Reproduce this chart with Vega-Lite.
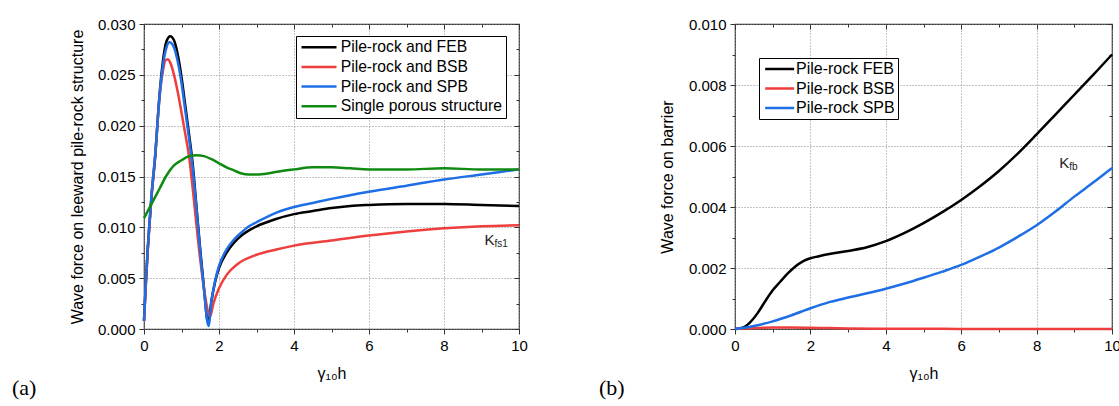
{
  "$schema": "https://vega.github.io/schema/vega-lite/v6.json",
  "autosize": {"type": "none"},
  "padding": {"left": 144, "top": 24, "right": 975, "bottom": 382},
  "background": "white",
  "datasets": {
    "a": [
      {"x": 0, "y": 0.0008, "s": "Pile-rock and FEB"},
      {"x": 0.05, "y": 0.0045, "s": "Pile-rock and FEB"},
      {"x": 0.1, "y": 0.0078, "s": "Pile-rock and FEB"},
      {"x": 0.15, "y": 0.0105, "s": "Pile-rock and FEB"},
      {"x": 0.2, "y": 0.0130, "s": "Pile-rock and FEB"},
      {"x": 0.3, "y": 0.0170, "s": "Pile-rock and FEB"},
      {"x": 0.4, "y": 0.0224, "s": "Pile-rock and FEB"},
      {"x": 0.5, "y": 0.0262, "s": "Pile-rock and FEB"},
      {"x": 0.6, "y": 0.0283, "s": "Pile-rock and FEB"},
      {"x": 0.7, "y": 0.0288, "s": "Pile-rock and FEB"},
      {"x": 0.8, "y": 0.0284, "s": "Pile-rock and FEB"},
      {"x": 0.9, "y": 0.0270, "s": "Pile-rock and FEB"},
      {"x": 1.0, "y": 0.0248, "s": "Pile-rock and FEB"},
      {"x": 1.1, "y": 0.0220, "s": "Pile-rock and FEB"},
      {"x": 1.2, "y": 0.0192, "s": "Pile-rock and FEB"},
      {"x": 1.3, "y": 0.0162, "s": "Pile-rock and FEB"},
      {"x": 1.4, "y": 0.0120, "s": "Pile-rock and FEB"},
      {"x": 1.5, "y": 0.0078, "s": "Pile-rock and FEB"},
      {"x": 1.6, "y": 0.0040, "s": "Pile-rock and FEB"},
      {"x": 1.71, "y": 0.0006, "s": "Pile-rock and FEB"},
      {"x": 1.8, "y": 0.0028, "s": "Pile-rock and FEB"},
      {"x": 1.9, "y": 0.0047, "s": "Pile-rock and FEB"},
      {"x": 2.0, "y": 0.0060, "s": "Pile-rock and FEB"},
      {"x": 2.2, "y": 0.0075, "s": "Pile-rock and FEB"},
      {"x": 2.4, "y": 0.0085, "s": "Pile-rock and FEB"},
      {"x": 2.6, "y": 0.0092, "s": "Pile-rock and FEB"},
      {"x": 2.8, "y": 0.0097, "s": "Pile-rock and FEB"},
      {"x": 3.0, "y": 0.0101, "s": "Pile-rock and FEB"},
      {"x": 3.5, "y": 0.0108, "s": "Pile-rock and FEB"},
      {"x": 4.0, "y": 0.0113, "s": "Pile-rock and FEB"},
      {"x": 4.5, "y": 0.0116, "s": "Pile-rock and FEB"},
      {"x": 5.0, "y": 0.0119, "s": "Pile-rock and FEB"},
      {"x": 5.5, "y": 0.0121, "s": "Pile-rock and FEB"},
      {"x": 6.0, "y": 0.0122, "s": "Pile-rock and FEB"},
      {"x": 7.0, "y": 0.0123, "s": "Pile-rock and FEB"},
      {"x": 8.0, "y": 0.0123, "s": "Pile-rock and FEB"},
      {"x": 9.0, "y": 0.0122, "s": "Pile-rock and FEB"},
      {"x": 10.0, "y": 0.0121, "s": "Pile-rock and FEB"},

      {"x": 0, "y": 0.0008, "s": "Pile-rock and BSB"},
      {"x": 0.05, "y": 0.0045, "s": "Pile-rock and BSB"},
      {"x": 0.1, "y": 0.0078, "s": "Pile-rock and BSB"},
      {"x": 0.15, "y": 0.0105, "s": "Pile-rock and BSB"},
      {"x": 0.2, "y": 0.0130, "s": "Pile-rock and BSB"},
      {"x": 0.3, "y": 0.0172, "s": "Pile-rock and BSB"},
      {"x": 0.4, "y": 0.0222, "s": "Pile-rock and BSB"},
      {"x": 0.5, "y": 0.0253, "s": "Pile-rock and BSB"},
      {"x": 0.6, "y": 0.0265, "s": "Pile-rock and BSB"},
      {"x": 0.65, "y": 0.0265, "s": "Pile-rock and BSB"},
      {"x": 0.7, "y": 0.0262, "s": "Pile-rock and BSB"},
      {"x": 0.8, "y": 0.0250, "s": "Pile-rock and BSB"},
      {"x": 0.9, "y": 0.0233, "s": "Pile-rock and BSB"},
      {"x": 1.0, "y": 0.0213, "s": "Pile-rock and BSB"},
      {"x": 1.1, "y": 0.0192, "s": "Pile-rock and BSB"},
      {"x": 1.2, "y": 0.0170, "s": "Pile-rock and BSB"},
      {"x": 1.3, "y": 0.0138, "s": "Pile-rock and BSB"},
      {"x": 1.4, "y": 0.0102, "s": "Pile-rock and BSB"},
      {"x": 1.5, "y": 0.0068, "s": "Pile-rock and BSB"},
      {"x": 1.6, "y": 0.0040, "s": "Pile-rock and BSB"},
      {"x": 1.7, "y": 0.0018, "s": "Pile-rock and BSB"},
      {"x": 1.76, "y": 0.0012, "s": "Pile-rock and BSB"},
      {"x": 1.85, "y": 0.0025, "s": "Pile-rock and BSB"},
      {"x": 2.0, "y": 0.0040, "s": "Pile-rock and BSB"},
      {"x": 2.2, "y": 0.0053, "s": "Pile-rock and BSB"},
      {"x": 2.5, "y": 0.0064, "s": "Pile-rock and BSB"},
      {"x": 3.0, "y": 0.0073, "s": "Pile-rock and BSB"},
      {"x": 3.5, "y": 0.0078, "s": "Pile-rock and BSB"},
      {"x": 4.0, "y": 0.0082, "s": "Pile-rock and BSB"},
      {"x": 5.0, "y": 0.0087, "s": "Pile-rock and BSB"},
      {"x": 6.0, "y": 0.0092, "s": "Pile-rock and BSB"},
      {"x": 7.0, "y": 0.0096, "s": "Pile-rock and BSB"},
      {"x": 8.0, "y": 0.0099, "s": "Pile-rock and BSB"},
      {"x": 9.0, "y": 0.0101, "s": "Pile-rock and BSB"},
      {"x": 10.0, "y": 0.0102, "s": "Pile-rock and BSB"},

      {"x": 0, "y": 0.0008, "s": "Pile-rock and SPB"},
      {"x": 0.05, "y": 0.0048, "s": "Pile-rock and SPB"},
      {"x": 0.1, "y": 0.0080, "s": "Pile-rock and SPB"},
      {"x": 0.15, "y": 0.0107, "s": "Pile-rock and SPB"},
      {"x": 0.2, "y": 0.0132, "s": "Pile-rock and SPB"},
      {"x": 0.3, "y": 0.0172, "s": "Pile-rock and SPB"},
      {"x": 0.4, "y": 0.0222, "s": "Pile-rock and SPB"},
      {"x": 0.5, "y": 0.0258, "s": "Pile-rock and SPB"},
      {"x": 0.6, "y": 0.0277, "s": "Pile-rock and SPB"},
      {"x": 0.68, "y": 0.0282, "s": "Pile-rock and SPB"},
      {"x": 0.8, "y": 0.0277, "s": "Pile-rock and SPB"},
      {"x": 0.9, "y": 0.0263, "s": "Pile-rock and SPB"},
      {"x": 1.0, "y": 0.0242, "s": "Pile-rock and SPB"},
      {"x": 1.1, "y": 0.0215, "s": "Pile-rock and SPB"},
      {"x": 1.2, "y": 0.0188, "s": "Pile-rock and SPB"},
      {"x": 1.3, "y": 0.0158, "s": "Pile-rock and SPB"},
      {"x": 1.4, "y": 0.0118, "s": "Pile-rock and SPB"},
      {"x": 1.5, "y": 0.0076, "s": "Pile-rock and SPB"},
      {"x": 1.6, "y": 0.0038, "s": "Pile-rock and SPB"},
      {"x": 1.72, "y": 0.0003, "s": "Pile-rock and SPB"},
      {"x": 1.8, "y": 0.0028, "s": "Pile-rock and SPB"},
      {"x": 1.9, "y": 0.0048, "s": "Pile-rock and SPB"},
      {"x": 2.0, "y": 0.0062, "s": "Pile-rock and SPB"},
      {"x": 2.2, "y": 0.0078, "s": "Pile-rock and SPB"},
      {"x": 2.4, "y": 0.0088, "s": "Pile-rock and SPB"},
      {"x": 2.6, "y": 0.0095, "s": "Pile-rock and SPB"},
      {"x": 2.8, "y": 0.0101, "s": "Pile-rock and SPB"},
      {"x": 3.0, "y": 0.0105, "s": "Pile-rock and SPB"},
      {"x": 3.5, "y": 0.0114, "s": "Pile-rock and SPB"},
      {"x": 4.0, "y": 0.0120, "s": "Pile-rock and SPB"},
      {"x": 4.5, "y": 0.0124, "s": "Pile-rock and SPB"},
      {"x": 5.0, "y": 0.0128, "s": "Pile-rock and SPB"},
      {"x": 6.0, "y": 0.0135, "s": "Pile-rock and SPB"},
      {"x": 7.0, "y": 0.0141, "s": "Pile-rock and SPB"},
      {"x": 8.0, "y": 0.0147, "s": "Pile-rock and SPB"},
      {"x": 9.0, "y": 0.0152, "s": "Pile-rock and SPB"},
      {"x": 10.0, "y": 0.0157, "s": "Pile-rock and SPB"},

      {"x": 0, "y": 0.0109, "s": "Single porous structure"},
      {"x": 0.2, "y": 0.0123, "s": "Single porous structure"},
      {"x": 0.4, "y": 0.0137, "s": "Single porous structure"},
      {"x": 0.6, "y": 0.0151, "s": "Single porous structure"},
      {"x": 0.8, "y": 0.0161, "s": "Single porous structure"},
      {"x": 1.0, "y": 0.0166, "s": "Single porous structure"},
      {"x": 1.2, "y": 0.0170, "s": "Single porous structure"},
      {"x": 1.4, "y": 0.0171, "s": "Single porous structure"},
      {"x": 1.6, "y": 0.0170, "s": "Single porous structure"},
      {"x": 1.8, "y": 0.0167, "s": "Single porous structure"},
      {"x": 2.0, "y": 0.0163, "s": "Single porous structure"},
      {"x": 2.2, "y": 0.0159, "s": "Single porous structure"},
      {"x": 2.4, "y": 0.0156, "s": "Single porous structure"},
      {"x": 2.6, "y": 0.0153, "s": "Single porous structure"},
      {"x": 2.8, "y": 0.0152, "s": "Single porous structure"},
      {"x": 3.0, "y": 0.0152, "s": "Single porous structure"},
      {"x": 3.3, "y": 0.0153, "s": "Single porous structure"},
      {"x": 3.6, "y": 0.0155, "s": "Single porous structure"},
      {"x": 4.0, "y": 0.0157, "s": "Single porous structure"},
      {"x": 4.5, "y": 0.0159, "s": "Single porous structure"},
      {"x": 5.0, "y": 0.0159, "s": "Single porous structure"},
      {"x": 5.5, "y": 0.0158, "s": "Single porous structure"},
      {"x": 6.0, "y": 0.0157, "s": "Single porous structure"},
      {"x": 7.0, "y": 0.0157, "s": "Single porous structure"},
      {"x": 8.0, "y": 0.0158, "s": "Single porous structure"},
      {"x": 9.0, "y": 0.0157, "s": "Single porous structure"},
      {"x": 10.0, "y": 0.0157, "s": "Single porous structure"}
    ],
    "b": [
      {"x": 0, "y": 0, "s": "Pile-rock FEB"},
      {"x": 0.2, "y": 0.00004, "s": "Pile-rock FEB"},
      {"x": 0.4, "y": 0.00022, "s": "Pile-rock FEB"},
      {"x": 0.6, "y": 0.00052, "s": "Pile-rock FEB"},
      {"x": 0.8, "y": 0.00091, "s": "Pile-rock FEB"},
      {"x": 1.0, "y": 0.00127, "s": "Pile-rock FEB"},
      {"x": 1.2, "y": 0.00155, "s": "Pile-rock FEB"},
      {"x": 1.4, "y": 0.00182, "s": "Pile-rock FEB"},
      {"x": 1.6, "y": 0.00205, "s": "Pile-rock FEB"},
      {"x": 1.8, "y": 0.00222, "s": "Pile-rock FEB"},
      {"x": 2.0, "y": 0.00232, "s": "Pile-rock FEB"},
      {"x": 2.2, "y": 0.00238, "s": "Pile-rock FEB"},
      {"x": 2.5, "y": 0.00246, "s": "Pile-rock FEB"},
      {"x": 3.0, "y": 0.00256, "s": "Pile-rock FEB"},
      {"x": 3.5, "y": 0.00268, "s": "Pile-rock FEB"},
      {"x": 4.0, "y": 0.00288, "s": "Pile-rock FEB"},
      {"x": 4.5, "y": 0.00315, "s": "Pile-rock FEB"},
      {"x": 5.0, "y": 0.00347, "s": "Pile-rock FEB"},
      {"x": 5.5, "y": 0.00383, "s": "Pile-rock FEB"},
      {"x": 6.0, "y": 0.00423, "s": "Pile-rock FEB"},
      {"x": 6.5, "y": 0.00468, "s": "Pile-rock FEB"},
      {"x": 7.0, "y": 0.00518, "s": "Pile-rock FEB"},
      {"x": 7.5, "y": 0.00575, "s": "Pile-rock FEB"},
      {"x": 8.0, "y": 0.00638, "s": "Pile-rock FEB"},
      {"x": 8.5, "y": 0.00703, "s": "Pile-rock FEB"},
      {"x": 9.0, "y": 0.00768, "s": "Pile-rock FEB"},
      {"x": 9.5, "y": 0.00833, "s": "Pile-rock FEB"},
      {"x": 10.0, "y": 0.0090, "s": "Pile-rock FEB"},

      {"x": 0, "y": 0, "s": "Pile-rock BSB"},
      {"x": 0.5, "y": 0.00003, "s": "Pile-rock BSB"},
      {"x": 1.0, "y": 0.00005, "s": "Pile-rock BSB"},
      {"x": 1.5, "y": 0.00005, "s": "Pile-rock BSB"},
      {"x": 2.0, "y": 0.00004, "s": "Pile-rock BSB"},
      {"x": 2.5, "y": 0.00003, "s": "Pile-rock BSB"},
      {"x": 3.0, "y": 0.00002, "s": "Pile-rock BSB"},
      {"x": 4.0, "y": 0.00001, "s": "Pile-rock BSB"},
      {"x": 5.0, "y": 0.00001, "s": "Pile-rock BSB"},
      {"x": 6.0, "y": 0.0, "s": "Pile-rock BSB"},
      {"x": 8.0, "y": 0.0, "s": "Pile-rock BSB"},
      {"x": 10.0, "y": 0.0, "s": "Pile-rock BSB"},

      {"x": 0, "y": 0, "s": "Pile-rock SPB"},
      {"x": 0.5, "y": 0.0001, "s": "Pile-rock SPB"},
      {"x": 1.0, "y": 0.00025, "s": "Pile-rock SPB"},
      {"x": 1.5, "y": 0.00045, "s": "Pile-rock SPB"},
      {"x": 2.0, "y": 0.00068, "s": "Pile-rock SPB"},
      {"x": 2.5, "y": 0.00088, "s": "Pile-rock SPB"},
      {"x": 3.0, "y": 0.00103, "s": "Pile-rock SPB"},
      {"x": 3.5, "y": 0.00117, "s": "Pile-rock SPB"},
      {"x": 4.0, "y": 0.00132, "s": "Pile-rock SPB"},
      {"x": 4.5, "y": 0.00149, "s": "Pile-rock SPB"},
      {"x": 5.0, "y": 0.00168, "s": "Pile-rock SPB"},
      {"x": 5.5, "y": 0.00188, "s": "Pile-rock SPB"},
      {"x": 6.0, "y": 0.0021, "s": "Pile-rock SPB"},
      {"x": 6.5, "y": 0.00237, "s": "Pile-rock SPB"},
      {"x": 7.0, "y": 0.00267, "s": "Pile-rock SPB"},
      {"x": 7.5, "y": 0.00302, "s": "Pile-rock SPB"},
      {"x": 8.0, "y": 0.0034, "s": "Pile-rock SPB"},
      {"x": 8.5, "y": 0.00385, "s": "Pile-rock SPB"},
      {"x": 9.0, "y": 0.00434, "s": "Pile-rock SPB"},
      {"x": 9.5, "y": 0.0048, "s": "Pile-rock SPB"},
      {"x": 10.0, "y": 0.00528, "s": "Pile-rock SPB"}
    ],
    "annA": [{"x": 9.08, "y": 0.0088, "main": "K", "sub": "fs1"}],
    "annB": [{"x": 8.6, "y": 0.00545, "main": "K", "sub": "fb"}]
  },
  "hconcat": [
    {
      "width": 375,
      "height": 305,
      "title": {"text": "(a)", "orient": "bottom", "anchor": "start", "frame": "group", "font": "Liberation Serif", "fontSize": 22, "fontWeight": "normal", "color": "#000", "dx": -132, "offset": -3},
      "layer": [
        {
          "data": {"name": "a"},
          "mark": {"type": "line", "interpolate": "monotone", "strokeWidth": 2.5},
          "encoding": {
            "x": {"field": "x", "type": "quantitative", "scale": {"domain": [0, 10], "nice": false, "zero": false},
              "axis": {"orient": "bottom", "values": [0, 2, 4, 6, 8, 10], "grid": true, "title": "γ₁₀h", "titlePadding": 12}},
            "y": {"field": "y", "type": "quantitative", "scale": {"domain": [0, 0.03], "nice": false},
              "axis": {"orient": "left", "values": [0, 0.005, 0.01, 0.015, 0.02, 0.025, 0.03], "format": ".3f", "grid": true, "title": "Wave force on leeward pile-rock structure", "titlePadding": 12}},
            "color": {"field": "s", "type": "nominal",
              "scale": {"domain": ["Pile-rock and FEB", "Pile-rock and BSB", "Pile-rock and SPB", "Single porous structure"], "range": ["#000000", "#EE3E3E", "#1E6FE6", "#118A11"]},
              "legend": {"orient": "none", "legendX": 152, "legendY": 12, "labelFontSize": 15.7, "symbolSize": 136, "labelOffset": 25.5, "rowPadding": 2.6, "padding": 3.5}}
          }
        },
        {
          "data": {"name": "annA"},
          "mark": {"type": "point", "opacity": 0},
          "encoding": {
            "x": {"field": "x", "type": "quantitative", "axis": {"orient": "bottom", "values": [1, 3, 5, 7, 9], "labels": false, "grid": false, "title": null, "tickSize": 3}},
            "y": {"field": "y", "type": "quantitative", "axis": {"orient": "left", "values": [0.0025, 0.0075, 0.0125, 0.0175, 0.0225, 0.0275], "labels": false, "grid": false, "title": null, "tickSize": 3}}
          }
        },
        {
          "data": {"name": "annA"},
          "mark": {"type": "text", "align": "left", "baseline": "middle", "fontSize": 15, "font": "Liberation Sans", "color": "#222"},
          "encoding": {
            "text": {"field": "main"},
            "x": {"field": "x", "type": "quantitative", "axis": {"orient": "top", "values": [0, 2, 4, 6, 8, 10], "labels": false, "grid": false, "title": null, "tickSize": -5}},
            "y": {"field": "y", "type": "quantitative", "axis": {"orient": "right", "values": [0, 0.005, 0.01, 0.015, 0.02, 0.025, 0.03], "labels": false, "grid": false, "title": null, "tickSize": -5}}
          }
        },
        {
          "data": {"name": "annA"},
          "mark": {"type": "text", "align": "left", "baseline": "middle", "fontSize": 10, "font": "Liberation Sans", "color": "#222", "dx": 10, "dy": 4},
          "encoding": {
            "text": {"field": "sub"},
            "x": {"field": "x", "type": "quantitative", "axis": {"orient": "top", "values": [1, 3, 5, 7, 9], "labels": false, "grid": false, "title": null, "tickSize": -3}},
            "y": {"field": "y", "type": "quantitative", "axis": {"orient": "right", "values": [0.0025, 0.0075, 0.0125, 0.0175, 0.0225, 0.0275], "labels": false, "grid": false, "title": null, "tickSize": -3}}
          }
        }
      ],
      "resolve": {"axis": {"x": "independent", "y": "independent"}}
    },
    {
      "width": 377,
      "height": 305,
      "title": {"text": "(b)", "orient": "bottom", "anchor": "start", "frame": "group", "font": "Liberation Serif", "fontSize": 22, "fontWeight": "normal", "color": "#000", "dx": -136, "offset": -3},
      "layer": [
        {
          "data": {"name": "b"},
          "mark": {"type": "line", "interpolate": "monotone", "strokeWidth": 2.5},
          "encoding": {
            "x": {"field": "x", "type": "quantitative", "scale": {"domain": [0, 10], "nice": false, "zero": false},
              "axis": {"orient": "bottom", "values": [0, 2, 4, 6, 8, 10], "grid": true, "title": "γ₁₀h", "titlePadding": 12}},
            "y": {"field": "y", "type": "quantitative", "scale": {"domain": [0, 0.01], "nice": false},
              "axis": {"orient": "left", "values": [0, 0.002, 0.004, 0.006, 0.008, 0.01], "format": ".3f", "grid": true, "title": "Wave force on barrier", "titlePadding": 13}},
            "color": {"field": "s", "type": "nominal",
              "scale": {"domain": ["Pile-rock FEB", "Pile-rock BSB", "Pile-rock SPB"], "range": ["#000000", "#EE3E3E", "#1E6FE6"]},
              "legend": {"orient": "none", "legendX": 24, "legendY": 34, "labelFontSize": 16, "symbolSize": 93.4, "labelOffset": 18, "rowPadding": 3.5, "padding": 3}}
          }
        },
        {
          "data": {"name": "annB"},
          "mark": {"type": "point", "opacity": 0},
          "encoding": {
            "x": {"field": "x", "type": "quantitative", "axis": {"orient": "bottom", "values": [1, 3, 5, 7, 9], "labels": false, "grid": false, "title": null, "tickSize": 3}},
            "y": {"field": "y", "type": "quantitative", "axis": {"orient": "left", "values": [0.001, 0.003, 0.005, 0.007, 0.009], "labels": false, "grid": false, "title": null, "tickSize": 3}}
          }
        },
        {
          "data": {"name": "annB"},
          "mark": {"type": "text", "align": "left", "baseline": "middle", "fontSize": 15, "font": "Liberation Sans", "color": "#222"},
          "encoding": {
            "text": {"field": "main"},
            "x": {"field": "x", "type": "quantitative", "axis": {"orient": "top", "values": [0, 2, 4, 6, 8, 10], "labels": false, "grid": false, "title": null, "tickSize": -5}},
            "y": {"field": "y", "type": "quantitative", "axis": {"orient": "right", "values": [0, 0.002, 0.004, 0.006, 0.008, 0.01], "labels": false, "grid": false, "title": null, "tickSize": -5}}
          }
        },
        {
          "data": {"name": "annB"},
          "mark": {"type": "text", "align": "left", "baseline": "middle", "fontSize": 10, "font": "Liberation Sans", "color": "#222", "dx": 10, "dy": 4},
          "encoding": {
            "text": {"field": "sub"},
            "x": {"field": "x", "type": "quantitative", "axis": {"orient": "top", "values": [1, 3, 5, 7, 9], "labels": false, "grid": false, "title": null, "tickSize": -3}},
            "y": {"field": "y", "type": "quantitative", "axis": {"orient": "right", "values": [0.001, 0.003, 0.005, 0.007, 0.009], "labels": false, "grid": false, "title": null, "tickSize": -3}}
          }
        }
      ],
      "resolve": {"axis": {"x": "independent", "y": "independent"}}
    }
  ],
  "spacing": 216,
  "bounds": "flush",
  "resolve": {"scale": {"color": "independent"}, "legend": {"color": "independent"}},
  "config": {
    "view": {"stroke": "#333", "strokeWidth": 1.2},
    "axis": {
      "labelFont": "Liberation Sans", "labelFontSize": 15, "labelColor": "#000", "labelPadding": 4,
      "labelFlush": false, "labelOverlap": false,
      "titleFont": "Liberation Sans", "titleFontSize": 16, "titleFontWeight": "normal", "titleColor": "#000",
      "tickColor": "#333", "tickSize": 5, "tickWidth": 1,
      "gridColor": "#888", "gridDash": [1, 2], "gridWidth": 1, "gridOpacity": 1,
      "domain": false
    },
    "legend": {
      "title": null, "symbolType": "M-1,0H5", "symbolStrokeWidth": 2.5, "labelFont": "Liberation Sans", "labelColor": "#000",
      "strokeColor": "#000", "fillColor": "#fff", "cornerRadius": 0,
      "labelLimit": 400
    }
  }
}
